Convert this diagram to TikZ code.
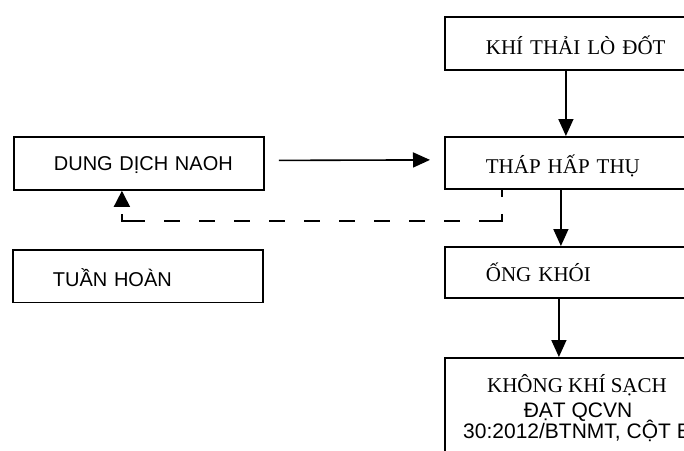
\documentclass[tikz,border=0pt]{standalone}
\usepackage{fontspec}
\setmainfont{Liberation Serif}
\newfontfamily\arialfont{Liberation Sans}
\usetikzlibrary{arrows.meta}

\begin{document}
\begin{tikzpicture}[x=1pt,y=-1pt,
  box/.style={draw, line width=1.8pt, anchor=north west, inner ysep=0pt, align=left},
  rbox/.style={box, inner xsep=41pt, text width=184pt,
    font=\fontsize{21}{24}\selectfont},
  lbox/.style={box, inner xsep=20pt, text width=210pt,
    font=\arialfont\fontsize{20}{23}\selectfont},
  serifline/.style={anchor=base, inner sep=0pt, font=\fontsize{21}{24}\selectfont},
  sansline/.style={anchor=base, inner sep=0pt, font=\arialfont\fontsize{21}{24}\selectfont},
  arr/.style={line width=1.6pt, -{Triangle[length=17pt,width=15pt]}},
  backarr/.style={line width=1.6pt,
    dash pattern=on 7pt off 17pt on 30pt off 19pt
      on 16pt off 19pt on 16pt off 19pt on 16pt off 19pt
      on 16pt off 19pt on 16pt off 19pt on 16pt off 19pt
      on 16pt off 19pt on 16pt off 19pt on 16pt off 19pt
      on 30pt off 20pt,
    -{Triangle[length=16pt,width=16pt]}}]
\clip (0,0) rectangle (684,450);

% process chain on the right
\node[rbox, text height=38pt, text depth=15pt] (khi) at (444,16) {KHÍ THẢI LÒ ĐỐT};
\node[rbox, text height=37pt, text depth=15pt] (thap) at (444,136) {THÁP HẤP THỤ};
\node[rbox, text height=35pt, text depth=16pt] (ong) at (444,246) {ỐNG KHÓI};
\node[box, minimum width=266pt, minimum height=110pt] (sach) at (444,357) {};
\node[serifline] (sach1) at (577,392) {KHÔNG KHÍ SẠCH};
\node[sansline] (sach2) at (578,417) {ĐẠT QCVN};
\node[sansline] (sach3) at (577,438) {30:2012/BTNMT, CỘT B};

% reagent side
\node[lbox, text height=34pt, text depth=19pt] (dung) at (13,136) {\hspace*{20pt}DUNG DỊCH NAOH};
\node[lbox, text height=36.5pt, text depth=16pt] (tuan) at (12,249) {\hspace*{20pt}TUẦN HOÀN};

% connectors
\draw[arr] ([xshift=-12pt]khi.south) -- ([xshift=-12pt]thap.north);
\draw[arr] ([xshift=-17pt]thap.south) -- ([xshift=-17pt]ong.north);
\draw[arr] ([xshift=-19pt]ong.south) -- ([xshift=-19pt]sach.north);
\draw[arr] ([xshift=14pt,yshift=3pt]dung.east) -- ([xshift=-14pt,yshift=3pt]thap.west);
\draw[backarr] ([xshift=-76pt]thap.south) -- ++(0,31) -| ([xshift=-17pt]dung.south);
\end{tikzpicture}
\end{document}
